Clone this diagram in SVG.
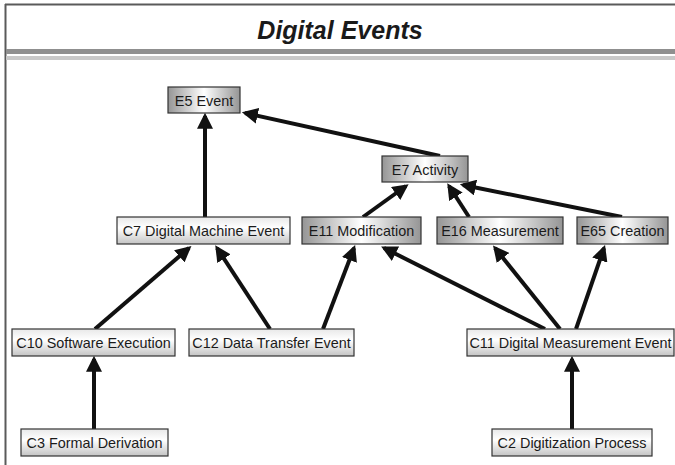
<svg xmlns="http://www.w3.org/2000/svg" width="675" height="465" viewBox="0 0 675 465">
<style>
.t{font-family:"Liberation Sans",Arial,sans-serif;font-size:14.4px;fill:#1a1a1a;text-anchor:middle}
.e rect{fill:url(#ge);stroke:#333;stroke-width:1.2}
.c rect{fill:url(#gc);stroke:#333;stroke-width:1.2}
.conn line{stroke:#111;stroke-width:4;marker-end:url(#ah)}
</style>
<defs>
<linearGradient id="ge" x1="0" y1="0" x2="1" y2="0">
<stop offset="0" stop-color="#959595"/><stop offset="0.5" stop-color="#ffffff"/><stop offset="1" stop-color="#959595"/>
</linearGradient>
<linearGradient id="gc" x1="0" y1="0" x2="0" y2="1">
<stop offset="0" stop-color="#e8e8e8"/><stop offset="0.4" stop-color="#ffffff"/><stop offset="1" stop-color="#c4c4c4"/>
</linearGradient>
<marker id="ah" markerWidth="4" markerHeight="4" refX="3.2" refY="2" orient="auto" markerUnits="strokeWidth">
<path d="M0,0 L4,2 L0,4 Z" fill="#111"/>
</marker>
</defs>
<rect width="675" height="465" fill="#fff"/>
<line x1="5" y1="4.5" x2="675" y2="4.5" stroke="#5a5a5a" stroke-width="2"/>
<line x1="5.5" y1="4" x2="5.5" y2="465" stroke="#5a5a5a" stroke-width="2"/>
<rect x="6" y="49" width="669" height="5" fill="#8f8f8f"/>
<rect x="6" y="56" width="669" height="4" fill="#c8c8c8"/>
<text x="340" y="39" font-family="Liberation Sans,Arial,sans-serif" font-size="25" font-weight="bold" font-style="italic" fill="#1a1a1a" text-anchor="middle">Digital Events</text>
<g class="conn">
<line x1="205" y1="217" x2="205" y2="116"/>
<line x1="440" y1="156" x2="245" y2="113"/>
<line x1="363" y1="217" x2="406" y2="186"/>
<line x1="469" y1="217" x2="449" y2="186"/>
<line x1="622" y1="217" x2="463" y2="185"/>
<line x1="95" y1="329" x2="189" y2="248"/>
<line x1="270" y1="329" x2="217" y2="248"/>
<line x1="323" y1="329" x2="354" y2="248"/>
<line x1="545" y1="329" x2="384" y2="248"/>
<line x1="560" y1="329" x2="495" y2="248"/>
<line x1="576" y1="329" x2="604" y2="248"/>
<line x1="94" y1="429" x2="94" y2="359"/>
<line x1="572" y1="429" x2="572" y2="359"/>
</g>
<g id="E5" class="e"><rect x="168" y="87" width="72" height="26"/><text class="t" x="204" y="105.5">E5 Event</text></g>
<g id="E7" class="e"><rect x="382" y="156" width="86" height="26"/><text class="t" x="425" y="174.5">E7 Activity</text></g>
<g id="C7" class="c"><rect x="117" y="217" width="173" height="27"/><text class="t" x="203.5" y="235.5">C7 Digital Machine Event</text></g>
<g id="E11" class="e"><rect x="302" y="217" width="119" height="27"/><text class="t" x="361.5" y="235.5">E11 Modification</text></g>
<g id="E16" class="e"><rect x="437" y="217" width="126" height="27"/><text class="t" x="500" y="235.5">E16 Measurement</text></g>
<g id="E65" class="e"><rect x="577" y="217" width="91" height="27"/><text class="t" x="622.5" y="235.5">E65 Creation</text></g>
<g id="C10" class="c"><rect x="12" y="329" width="163" height="27"/><text class="t" x="93.5" y="347.5">C10 Software Execution</text></g>
<g id="C12" class="c"><rect x="189" y="329" width="165" height="27"/><text class="t" x="271.5" y="347.5">C12 Data Transfer Event</text></g>
<g id="C11" class="c"><rect x="467" y="329" width="207" height="27"/><text class="t" x="570.5" y="347.5">C11 Digital Measurement Event</text></g>
<g id="C3" class="c"><rect x="21" y="429" width="147" height="27"/><text class="t" x="94.5" y="447.5">C3 Formal Derivation</text></g>
<g id="C2" class="c"><rect x="492" y="429" width="160" height="27"/><text class="t" x="572" y="447.5">C2 Digitization Process</text></g>
</svg>
